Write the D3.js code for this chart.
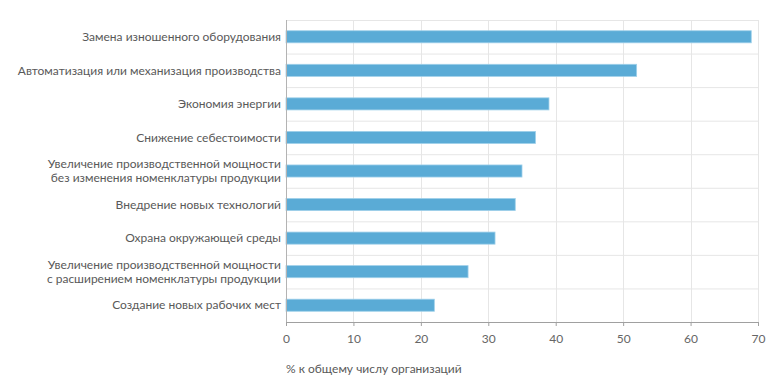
<!DOCTYPE html>
<html><head><meta charset="utf-8">
<script src="https://cdn.jsdelivr.net/npm/d3@7"></script>
<style>body{margin:0;background:#fff}svg{display:block}</style>
</head><body>
<svg id="c" width="784" height="392"></svg>
<script>
const categories = [
  "Замена изношенного оборудования",
  "Автоматизация или механизация производства",
  "Экономия энергии",
  "Снижение себестоимости",
  "Увеличение производственной мощности\nбез изменения номенклатуры продукции",
  "Внедрение новых технологий",
  "Охрана окружающей среды",
  "Увеличение производственной мощности\nс расширением номенклатуры продукции",
  "Создание новых рабочих мест"
];
const values = [69, 52, 39, 37, 35, 34, 31, 27, 22];
const xTicks = [0, 10, 20, 30, 40, 50, 60, 70];
const axisTitle = "% к общему числу организаций";

const svg = d3.select("#c");
const m = {left: 286, right: 26, top: 20, bottom: 70};
const W = 784, H = 392;
const x = d3.scaleLinear().domain([0, 70]).range([m.left, W - m.right]);
const y = d3.scaleBand().domain(categories).range([m.top, H - m.bottom]).paddingInner(0.64).paddingOuter(0.32);
const font = "Lato, 'Open Sans', sans-serif";

// horizontal grid lines at band boundaries
const step = y.step();
const bounds = d3.range(categories.length).map(i => m.top + i * step);
svg.append("g").selectAll("line").data(bounds).join("line")
  .attr("x1", m.left).attr("x2", x(70)).attr("y1", d => d + 0.5).attr("y2", d => d + 0.5)
  .attr("stroke", "#e6e6e6").attr("stroke-width", 1);
// vertical grid
svg.append("g").selectAll("line").data(xTicks.slice(1)).join("line")
  .attr("x1", d => Math.round(x(d)) + 0.5).attr("x2", d => Math.round(x(d)) + 0.5)
  .attr("y1", m.top).attr("y2", H - m.bottom)
  .attr("stroke", "#e6e6e6").attr("stroke-width", 1);

// bars
svg.append("g").selectAll("rect").data(values).join("rect")
  .attr("x", x(0)).attr("y", (d, i) => y(categories[i]))
  .attr("width", d => x(d) - x(0)).attr("height", y.bandwidth())
  .attr("fill", "#5aabd6").attr("stroke", "#9fd0ea").attr("stroke-width", 0.8);

// left axis line
svg.append("line").attr("x1", m.left + 0.5).attr("x2", m.left + 0.5)
  .attr("y1", m.top).attr("y2", H - m.bottom).attr("stroke", "#b3b3b3");

// bottom axis
const xa = svg.append("g").attr("transform", `translate(0,${H - m.bottom})`)
  .call(d3.axisBottom(x).tickValues(xTicks).tickSize(4).tickPadding(8));
xa.select(".domain").attr("stroke", "#a0a0a0");
xa.selectAll(".tick line").attr("stroke", "#a0a0a0");
xa.selectAll("text").attr("fill", "#666").style("font-family", font).style("font-size", "12px");

// category labels
const lab = svg.append("g");
categories.forEach((c, i) => {
  const lines = c.split("\n");
  const cy = y(c) + y.bandwidth() / 2;
  const t = lab.append("text").attr("text-anchor", "end")
    .attr("fill", "#595959").style("font-family", font).style("font-size", "12px");
  lines.forEach((ln, k) => {
    t.append("tspan").attr("x", m.left - 5)
      .attr("y", cy + (k - (lines.length - 1) / 2) * 14)
      .attr("dy", "0.35em").text(ln);
  });
});

// axis title
svg.append("text").attr("x", m.left).attr("y", 369).attr("dy", "0.35em")
  .attr("fill", "#595959").style("font-family", font).style("font-size", "12px").text(axisTitle);
</script>
</body></html>
